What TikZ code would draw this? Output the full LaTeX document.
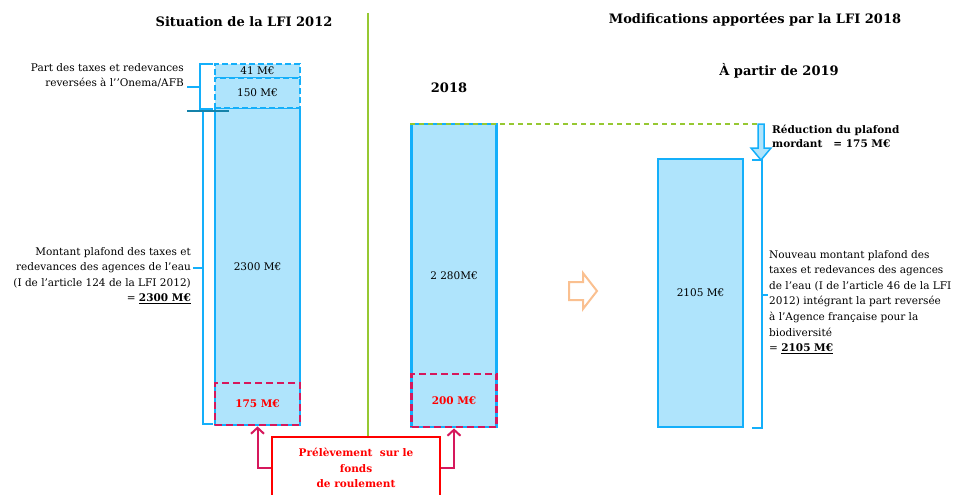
\documentclass[tikz,border=0pt]{standalone}
\usepackage{fontspec}
\setmainfont{DejaVu Serif}
\usetikzlibrary{arrows.meta}
\definecolor{barblue}{RGB}{20,175,250}
\definecolor{barfill}{RGB}{175,228,252}
\definecolor{crimson}{RGB}{214,24,92}
\definecolor{sepgreen}{RGB}{150,200,50}
\definecolor{arrorange}{RGB}{250,192,144}
\definecolor{darkteal}{RGB}{20,130,170}
\tikzset{
  bar/.style={draw=barblue, fill=barfill, line width=2.8pt, minimum width=85pt, inner sep=0pt, font=\fontsize{10.5}{14}\selectfont},
  dashblue/.style={bar, dash pattern=on 6pt off 3pt},
  dashred/.style={draw=crimson, line width=2.8pt, dash pattern=on 7pt off 4pt, minimum width=85pt, inner sep=0pt, text=red, font=\fontsize{10.5}{14}\selectfont\bfseries},
  brace/.style={draw=barblue, line width=1.6pt},
  pull/.style={draw=crimson, line width=2pt, -{Straight Barb[length=6pt,width=13pt]}},
  lbl/.style={inner sep=0pt, font=\fontsize{10.5}{15.6}\selectfont},
  ttl/.style={inner sep=0pt, font=\fontsize{13}{16}\selectfont\bfseries}
}
\begin{document}
\begin{tikzpicture}[x=1pt,y=-1pt]
  \useasboundingbox (0,0) rectangle (954,495);
  \node[ttl] (t2012) at (244,22) {Situation de la LFI 2012};
  \node[ttl] (t2018) at (755,20) {Modifications apportées par la LFI 2018};
  \node[ttl] (t2019) at (779,71) {À partir de 2019};
  \node[ttl] (y2018) at (449,88) {2018};
  % left column
  \node[bar, minimum height=317pt] (bar12) at (257.5,266.5) {2300 M€};
  \node[dashblue, minimum height=14pt] (b41) at (257.5,71) {41 M€};
  \node[dashblue, minimum height=30pt] (b150) at (257.5,93) {150 M€};
  \node[dashred, minimum height=42pt] (r175) at (257.5,404) {175 M€};
  % middle column
  \node[bar, minimum height=303pt] (bar18) at (454,275.5) {2 280M€};
  \node[dashred, minimum height=53pt] (r200) at (454,400.5) {200 M€};
  % right column
  \node[bar, minimum height=268pt] (bar19) at (700.5,293) {2105 M€};
  % braces
  \draw[brace] (213,64) -- (200,64) -- (200,109) -- (213,109);
  \draw[brace] (200,87) -- (187,87);
  \draw[brace] (213,110) -- (203,110) -- (203,424) -- (213,424);
  \draw[brace] (203,268) -- (193,268);
  \draw[brace] (752,160) -- (762,160) -- (762,428) -- (752,428);
  \draw[brace] (762,295) -- (768,295);
  \draw[darkteal, line width=1.6pt] (187,111) -- (229,111);
  % labels
  \node[lbl, anchor=east, align=right] (lpart) at (184,75.5) {Part des taxes et redevances\\reversées à l’’Onema/AFB};
  \node[lbl, anchor=east, align=right] (lmont) at (191,275.5) {Montant plafond des taxes et\\redevances des agences de l’eau\\(I de l’article 124 de la LFI 2012)\\= \underline{\textbf{2300 M€}}};
  \node[lbl, anchor=west, align=left] (lnouv) at (769,302) {Nouveau montant plafond des\\taxes et redevances des agences\\de l’eau (I de l’article 46 de la LFI\\2012) intégrant la part reversée\\à l’Agence française pour la\\biodiversité\\= \underline{\textbf{2105 M€}}};
  \node[lbl, anchor=west, align=left, font=\fontsize{10.5}{14}\selectfont\bfseries] (lred) at (772,136) {Réduction du plafond\\mordant \ \ = 175 M€};
  % separator and arrows
  \coordinate (sep) at (368,13);
  \node[draw=red, line width=1.6pt, minimum width=168pt, minimum height=62pt, text=red, align=center, font=\fontsize{10.5}{15.6}\selectfont\bfseries] (fonds) at (356,468) {Prélèvement \ sur le\\fonds\\de roulement};
  \draw[sepgreen, line width=1.2pt] (sep) -- (sep |- fonds.north);
  \coordinate (cut) at (761,124);
  \draw[sepgreen, line width=1.3pt, dash pattern=on 5pt off 4pt] (bar18.north west |- cut) -- (cut);
  \draw[barblue, fill=barfill, line width=1.5pt] (758,124) -- (764,124) -- (764,148) -- (771,148) -- (761,160) -- (751,148) -- (758,148) -- cycle;
  \draw[arrorange, fill=white, line width=2pt] (569,282) -- (583,282) -- (583,273) -- (597,291) -- (583,309) -- (583,300) -- (569,300) -- cycle;
  \draw[pull] (fonds.west) -| (r175.south);
  \draw[pull] (fonds.east) -| (r200.south);
\end{tikzpicture}
\end{document}
